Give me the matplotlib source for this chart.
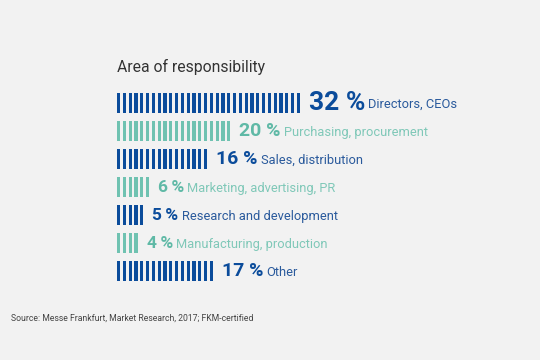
import matplotlib
matplotlib.use("Agg")
import matplotlib.pyplot as plt

# data
shares = [32, 20, 16, 6, 5, 4, 17]
labels = ["Directors, CEOs", "Purchasing, procurement", "Sales, distribution",
          "Marketing, advertising, PR", "Research and development",
          "Manufacturing, production", "Other"]
num_sizes = [19, 14, 14, 12.5, 12.5, 12.5, 14]

blue = "#0b4c9b"
teal = "#6fc2b1"
blue_txt = "#2a5a9c"
teal_txt = "#7fc8b8"
bg = "#f2f2f2"

plt.rcParams['font.family'] = ['Roboto', 'DejaVu Sans']

fig = plt.figure(figsize=(5.4, 3.6), dpi=100, facecolor=bg)
ax = fig.add_axes([0, 0, 1, 1])
ax.set_facecolor(bg)
ax.set_xlim(0, 540)
ax.set_ylim(360, 0)
ax.axis("off")

x0 = 117
pitch = 5.8
stripe_w = 3.2
row0 = 103
row_step = 28
bar_h = 20

fig.text(117 / 540, 1 - 67 / 360, "Area of responsibility", fontsize=11.3,
         color="#333333", va="center", ha="left")

fig.canvas.draw()
r = fig.canvas.get_renderer()

for k, (v, lab) in enumerate(zip(shares, labels)):
    y = row0 + k * row_step
    c = blue if k % 2 == 0 else teal
    tc = blue_txt if k % 2 == 0 else teal_txt
    nc = "#0b4c9b" if k % 2 == 0 else "#5fb9a6"
    xs = [x0 + i * pitch for i in range(v)]
    ax.bar(xs, bar_h, width=stripe_w, bottom=y - bar_h / 2, align="edge", color=c)
    xend = xs[-1] + stripe_w + 9
    sep = " " if v >= 10 else "\u2009"
    t = ax.text(xend, y + 0.5, f"{v}{sep}%", fontsize=num_sizes[k], fontweight="bold",
                color=nc, va="center", ha="left")
    bb = t.get_window_extent(renderer=r)
    xl = bb.x1 + 3
    fig.text(xl / 540, 1 - (y + 1.5) / 360, lab, fontsize=9.3, color=tc,
             va="center", ha="left")

fig.text(11 / 540, 1 - 318 / 360, "Source: Messe Frankfurt, Market Research, 2017; FKM-certified",
         fontsize=6.2, color="#444444", va="center", ha="left")

fig.savefig("out.png", dpi=100, facecolor=bg)
